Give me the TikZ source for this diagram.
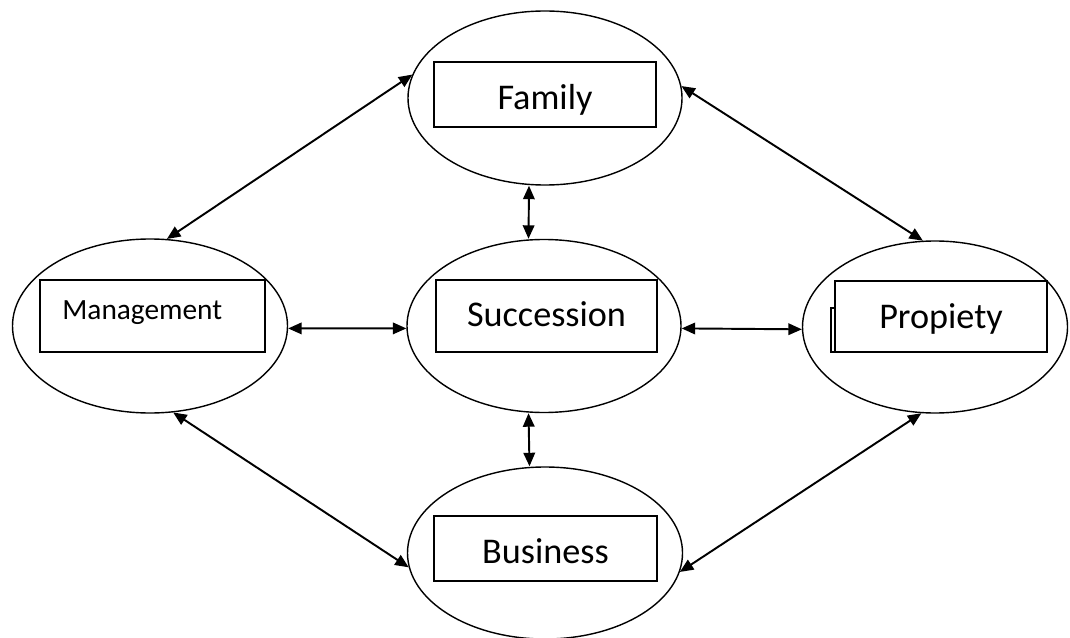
\documentclass[tikz,border=0pt]{standalone}
\usepackage{fontspec}
\setmainfont{Carlito}
\usetikzlibrary{shapes.geometric, arrows.meta}

\begin{document}
\begin{tikzpicture}[x=0.2cm, y=0.2cm, >={Triangle[length=2.7mm, width=2.3mm]},
    oval/.style={ellipse, draw, line width=0.8pt, inner sep=0pt},
    box/.style={rectangle, draw, line width=1pt, fill=white, inner sep=0pt,
        text depth=0pt, font=\fontsize{20.6}{24}\selectfont},
    link/.style={<->, line width=1.1pt}]
    \useasboundingbox (0,0) rectangle (107,63.7);

    % the five ellipses
    \node[oval, minimum width=5.48cm, minimum height=3.48cm] (fam) at (54.5,53.9) {};
    \node[oval, minimum width=5.48cm, minimum height=3.46cm] (suc) at (54.4,31.1) {};
    \node[oval, minimum width=5.5cm, minimum height=3.48cm] (mgt) at (15.0,31.1) {};
    \node[oval, minimum width=5.3cm, minimum height=3.44cm] (pro) at (93.5,31.0) {};
    \node[oval, minimum width=5.5cm, minimum height=3.44cm] (bus) at (54.5,8.4) {};

    % boxes with the labels
    \node[box, text height=6.2mm, minimum width=4.44cm, minimum height=1.3cm] (famBox) at (54.5,54.25) {Family};
    \node[box, text height=4.2mm, minimum width=4.42cm, minimum height=1.44cm] (sucBox) at (54.65,32.1) {Succession\hspace{3.4mm}};
    \node[box, minimum width=4.5cm, minimum height=1.44cm] (mgtBox) at (15.25,32.1) {};
    \node[anchor=base west, inner sep=0pt, font=\fontsize{16.7}{20}\selectfont] (mgtText) at (6.2,31.8) {Management};
    \draw[line width=0.6pt] (83.1,28.5) rectangle (85,32.9);
    \node[box, text height=4.8mm, minimum width=4.24cm, minimum height=1.42cm] (proBox) at (94.1,32.05) {Propiety};
    \node[box, text height=5.8mm, minimum width=4.46cm, minimum height=1.3cm] (busBox) at (54.55,8.85) {Business};

    % two-way links
    \draw[link] (fam.170) -- (mgt.79);
    \draw[link] (fam.5) -- (pro.98);
    \draw[link] (mgt.285) -- (bus.186);
    \draw[link] (bus.352) -- (pro.261);
    \draw[link] (mgt.-1) -- (suc.181);
    \draw[link] (suc.-1) -- (pro.181);
    \draw[link] ([xshift=-3.2mm]fam.south) -- ([xshift=-3.1mm]suc.north);
    \draw[link] ([xshift=-3.1mm]suc.south) -- ([xshift=-3.1mm]bus.north);
\end{tikzpicture}
\end{document}
